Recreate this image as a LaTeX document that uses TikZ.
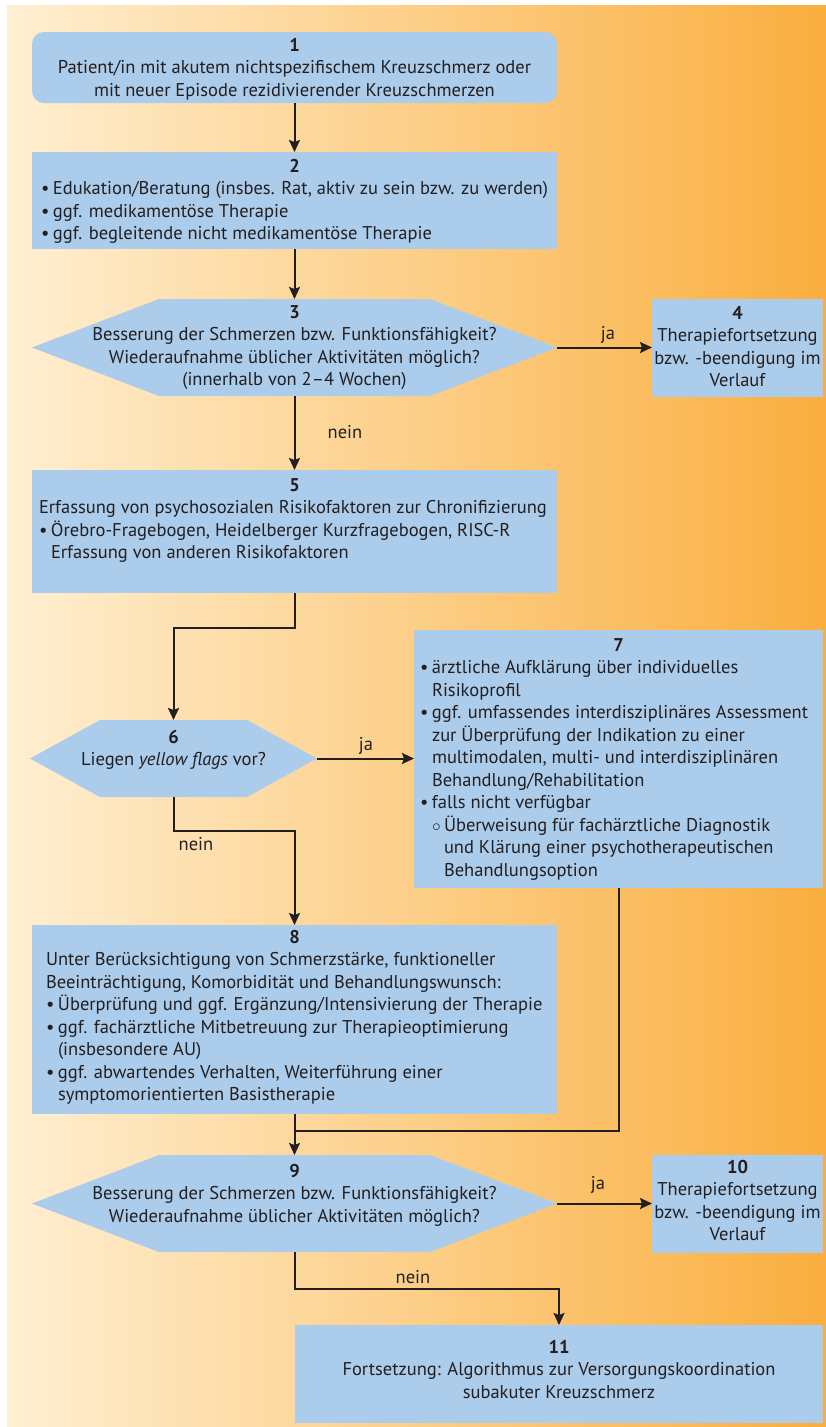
\documentclass[tikz,border=0pt]{standalone}
\usepackage{fontspec}
\setmainfont{PT Sans}
\usetikzlibrary{arrows.meta}
\definecolor{boxblue}{RGB}{171,204,235}
\definecolor{ink}{RGB}{35,31,32}
\definecolor{bgL}{RGB}{255,239,210}
\definecolor{bgM}{RGB}{253,207,140}
\definecolor{bgR}{RGB}{250,174,62}
\newcommand{\bul}{\makebox[12pt][l]{\textbullet}}
\newcommand{\ind}{\hspace*{12pt}}
\newcommand{\subbul}{\makebox[12pt][l]{$\circ$}}
\newcommand{\nr}[2]{\rule{0pt}{#1pt}\textbf{#2}}
\newcommand{\content}[3]{\parbox[c][#2pt][t]{#1pt}{#3}}
\tikzset{
  every node/.style={font=\fontsize{18.5}{22.5}\selectfont, text=ink},
  flowbox/.style={fill=boxblue, inner xsep=#1, inner ysep=0pt, outer sep=0pt, anchor=north west},
  flowbox/.default=0pt,
  hexbox/.style={inner sep=0pt, outer sep=0pt, anchor=north west,
    path picture={\fill[boxblue] (path picture bounding box.west)
      -- ([xshift=#1]path picture bounding box.north west)
      -- ([xshift=-#1]path picture bounding box.north east)
      -- (path picture bounding box.east)
      -- ([xshift=-#1]path picture bounding box.south east)
      -- ([xshift=#1]path picture bounding box.south west) -- cycle;}},
  conn/.style={draw=ink, line width=2pt},
  arr/.style={conn, -{Stealth[length=12pt, width=11pt, inset=2pt]}},
  lbl/.style={inner sep=0pt}
}
\begin{document}
\begin{tikzpicture}[x=1pt, y=-1pt]
\useasboundingbox (0,0) rectangle (826,1427);
\fill[white] (0,0) rectangle (826,1427);
\shade[left color=bgL, middle color=bgM, right color=bgR] (7,5) rectangle (826,1427);

% 1
\node[flowbox, rounded corners=12pt] (b1) at (32,32)
  {\content{525}{71}{\centering\nr{19}{1}\\
   Patient/in mit akutem nichtspezifischem Kreuzschmerz oder\\
   mit neuer Episode rezidivierender Kreuzschmerzen}};
% 2
\node[flowbox=9pt] (b2) at (32,152)
  {\content{507}{97}{\centering\nr{20}{2}\par\raggedright
   \bul Edukation/Beratung (insbes. Rat, aktiv zu sein bzw. zu werden)\\
   \bul ggf. medikamentöse Therapie\\
   \bul ggf. begleitende nicht medikamentöse Therapie}};
% 3
\node[hexbox=127pt] (h3) at (32,299)
  {\content{525}{97}{\centering\nr{19}{3}\\
   Besserung der Schmerzen bzw. Funktionsfähigkeit?\\
   Wiederaufnahme üblicher Aktivitäten möglich?\\
   (innerhalb von 2–4 Wochen)}};
% 4
\node[flowbox] (b4) at (652,299)
  {\content{171}{98}{\centering\nr{20}{4}\\
   Therapiefortsetzung\\ bzw. -beendigung im\\ Verlauf}};
% 5
\node[flowbox=7pt] (b5) at (32,470)
  {\content{511}{123}{\centering\nr{21}{5}\par\raggedright
   Erfassung von psychosozialen Risikofaktoren zur Chronifizierung\\
   \bul Örebro-Fragebogen, Heidelberger Kurzfragebogen, RISC-R\\
   \ind Erfassung von anderen Risikofaktoren}};
% 6
\node[hexbox=70pt] (h6) at (30,720)
  {\content{287}{77}{\centering\nr{23}{6}\\
   Liegen \textit{yellow flags} vor?}};
% 7
\node[flowbox=6pt] (b7) at (414,630)
  {\content{397}{258}{\centering\nr{21}{7}\par\raggedright
   \bul ärztliche Aufklärung über individuelles\\
   \ind Risikoprofil\\
   \bul ggf. umfassendes interdisziplinäres Assessment\\
   \ind zur Überprüfung der Indikation zu einer\\
   \ind multimodalen, multi- und interdisziplinären\\
   \ind Behandlung/Rehabilitation\\
   \bul falls nicht verfügbar\\
   \ind\subbul Überweisung für fachärztliche Diagnostik\\
   \ind\ind und Klärung einer psychotherapeutischen\\
   \ind\ind Behandlungsoption}};
% 8
\node[flowbox=14pt] (b8) at (32,925)
  {\content{497}{189}{\centering\nr{18}{8}\par\raggedright
   Unter Berücksichtigung von Schmerzstärke, funktioneller\\
   Beeinträchtigung, Komorbidität und Behandlungswunsch:\\
   \bul Überprüfung und ggf. Ergänzung/Intensivierung der Therapie\\
   \bul ggf. fachärztliche Mitbetreuung zur Therapieoptimierung\\
   \ind (insbesondere AU)\\
   \bul ggf. abwartendes Verhalten, Weiterführung einer\\
   \ind symptomorientierten Basistherapie}};
% 9
\node[hexbox=127pt] (h9) at (32,1155)
  {\content{525}{97}{\centering\nr{22}{9}\\
   Besserung der Schmerzen bzw. Funktionsfähigkeit?\\
   Wiederaufnahme üblicher Aktivitäten möglich?}};
% 10
\node[flowbox] (b10) at (652,1155)
  {\content{171}{98}{\centering\nr{18}{10}\\
   Therapiefortsetzung\\ bzw. -beendigung im\\ Verlauf}};
% 11
\node[flowbox] (b11) at (295,1325)
  {\content{528}{98}{\centering\nr{28}{11}\\
   Fortsetzung: Algorithmus zur Versorgungskoordination\\
   subakuter Kreuzschmerz}};

% connectors
\draw[arr] (b1) -- (b2);
\draw[arr] (b2) -- (h3);
\draw[arr] (h3.east) -- (h3.east -| b4.west);
\node[lbl] (ja3) at (608,335) {ja};
\draw[arr] (h3) -- (b5);
\node[lbl] (nein3) at (345,432) {nein};
\draw[arr] (b5.south) -- ++(0,35) -| (h6.north);
\draw[arr] (h6.east) -- (h6.east -| b7.west);
\node[lbl] (ja6) at (366,746) {ja};
\draw[arr] (h6.south) -- ++(0,34) -| (b8.north);
\node[lbl] (nein6) at (196,844) {nein};
\coordinate (m) at (b8.south |- 0,1131);
\draw[conn] (b7.south) |- (m);
\draw[arr] (b8) -- (h9);
\draw[arr] (h9.east) -- (h9.east -| b10.west);
\node[lbl] (ja9) at (598,1185) {ja};
\draw[arr] (h9.south) -- ++(0,37) -| (b11.north);
\node[lbl] (nein9) at (413,1277) {nein};
\end{tikzpicture}
\end{document}
